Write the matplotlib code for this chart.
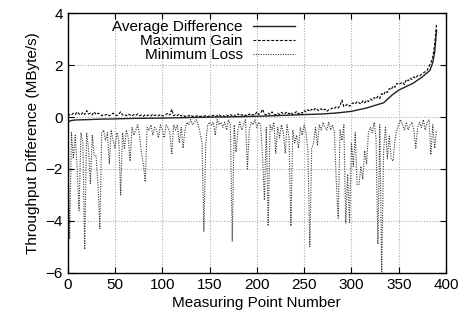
import matplotlib
matplotlib.use("Agg")
import matplotlib.pyplot as plt

plt.rcParams['font.family'] = ['Liberation Sans', 'DejaVu Sans']

# average difference (smooth curve, read at selected points)
avg_x = [0, 1, 3, 6, 10, 20, 35, 50, 70, 100, 140, 175, 210, 245, 270, 285,
         300, 316, 334, 343, 350, 365, 375, 383, 386, 388, 390]
avg_y = [-0.22, -0.18, -0.14, -0.12, -0.11, -0.1, -0.08, -0.07, -0.05, -0.04,
         -0.01, 0.01, 0.04, 0.09, 0.12, 0.16, 0.22, 0.35, 0.55, 0.85, 1.04,
         1.3, 1.55, 1.8, 2.1, 2.5, 3.35]

# every second measuring point, 0..390
points = list(range(0, 391, 2))

max_gain = [
    0.05, 0.1, 0.08, 0.15, 0.1, 0.2, 0.12, 0.08, 0.18, 0.1, 0.25, 0.12, 0.15,
    0.08, 0.2, 0.1, 0.15, 0.12, 0.05, 0.1, 0.08, 0.12, 0.05, 0.1, 0.15, 0.08,
    0.05, 0.12, 0.2, 0.08, 0.1, 0.05, 0.12, 0.08, 0.04, 0.1, 0.06, 0.12, 0.05,
    0.08, 0.03, 0.1, 0.06, 0.08, 0.04, 0.12, 0.06, 0.08, 0.05, 0.1, 0.04,
    0.06, 0.1, 0.15, 0.08, 0.3, 0.05, 0.1, 0.06, 0.12, 0.04, 0.08, 0.02, 0.06,
    0.04, 0.08, 0.02, 0.05, 0.03, 0.07, 0.02, 0.05, 0.03, 0.06, 0.02, 0.04,
    0.03, 0.07, 0.02, 0.05, 0.1, 0.03, 0.06, 0.02, 0.08, 0.04, 0.1, 0.05, 0.08,
    0.03, 0.12, 0.06, 0.1, 0.04, 0.08, 0.05, 0.12, 0.06, 0.1, 0.08, 0.2,
    0.1, 0.15, 0.3, 0.12, 0.08, 0.15, 0.1, 0.2, 0.12, 0.08, 0.15, 0.1, 0.18,
    0.12, 0.15, 0.2, 0.12, 0.18, 0.1, 0.15, 0.22, 0.12, 0.18, 0.15, 0.25,
    0.2, 0.28, 0.22, 0.3, 0.25, 0.35, 0.28, 0.25, 0.32, 0.25, 0.3, 0.22, 0.28,
    0.3, 0.35, 0.32, 0.4, 0.35, 0.45, 0.65, 0.4, 0.45, 0.5, 0.42, 0.5,
    0.55, 0.5, 0.6, 0.55, 0.5, 0.62, 0.55, 0.65, 0.6, 0.7, 0.65, 0.75, 0.7,
    0.8, 0.72, 0.9, 0.85, 1.0, 0.95, 1.1, 1.05, 1.2, 1.15, 1.3, 1.25,
    1.3, 1.35, 1.25, 1.45, 1.4, 1.5, 1.45, 1.55, 1.5, 1.6, 1.58, 1.65, 1.7,
    1.75, 1.8, 1.95, 2.1, 2.3, 2.8, 3.6,
]

min_loss = [
    -0.5, -4.7, -0.6, -1.6, -0.7, -2.0, -3.6, -0.6, -1.0, -5.1, -0.6, -1.2, -2.6,
    -0.7, -1.5, -1.5, -2.6, -4.3, -0.6, -0.5, -0.9, -0.6, -1.8, -0.5, -0.9, -1.2,
    -0.6, -0.9, -3.0, -0.6, -1.2, -0.5, -0.8, -1.7, -0.4, -0.7, -0.5, -0.3, -0.7,
    -1.4, -1.8, -2.5, -0.4, -0.5, -0.3, -0.7, -0.4, -0.5, -0.8, -0.3, -0.5,
    -0.8, -0.3, -0.4, -0.6, -1.45, -0.3, -0.5, -0.3, -1.0, -0.4, -1.2, -0.5, -0.2,
    -0.3, -0.1, -0.3, -0.2, -0.1, -0.3, -0.6, -1.0, -4.4, -1.0, -0.3, -0.2,
    -0.3, -0.2, -0.7, -0.1, -0.3, -0.2, -0.4, -0.2, -0.5, -0.1, -0.3, -4.8, -0.3,
    -1.35, -0.5, -0.2, -0.5, -0.3, -0.1, -2.0, -0.5, -0.2, -0.3, -0.1, -0.4,
    -0.2, -0.3, -1.5, -3.2, -0.4, -4.2, -0.3, -0.5, -0.2, -1.4, -0.4, -0.8, -0.3,
    -0.6, -1.4, -0.3, -0.8, -4.2, -0.5, -1.0, -0.7, -1.2, -0.4, -0.7, -0.3,
    -0.6, -1.3, -5.0, -1.2, -1.0, -0.4, -1.1, -0.3, -0.5, -0.2, -0.4, -0.5, -0.2,
    -0.5, -0.3, -0.6, -2.5, -3.9, -0.5, -0.9, -0.3, -4.1, -2.2, -4.1, -1.0,
    -1.9, -0.6, -2.6, -2.6, -1.9, -2.4, -1.3, -1.8, -0.6, -0.4, -0.6, -0.2, -0.8,
    -4.9, -0.3, -6.0, -1.3, -0.4, -1.6, -0.7, -1.6, -1.7, -0.9, -0.5, -0.3,
    -0.1, -0.3, -0.5, -0.2, -0.5, -0.3, -0.2, -0.5, -1.2, -0.4, -0.2, -0.4, -0.1,
    -0.5, -0.2, -0.1, -1.45, -0.3, -1.2, -0.5,
]

fig = plt.figure(figsize=(4.63, 3.2), dpi=100)
ax = fig.add_axes([0.1462, 0.1478, 0.8171, 0.8106])

ax.plot(avg_x, avg_y, color='#222222', lw=1.0, label='Average Difference')
ax.plot(points, max_gain, color='black', lw=0.8, ls=(0, (2.5, 1.5)),
        label='Maximum Gain')
ax.plot(points, min_loss, color='#3a3a3a', lw=0.8, ls=(0, (1, 1.2)),
        label='Minimum Loss')

ax.set_xlim(0, 400)
ax.set_ylim(-6, 4)
ax.set_xticks(range(0, 401, 50))
ax.set_yticks(range(-6, 5, 2))
ax.grid(True, color='#aaaaaa', ls=(0, (1, 1.5)), lw=0.8)
ax.tick_params(direction='in', top=True, right=True, labelsize=11, length=4)
for s in ax.spines.values():
    s.set_linewidth(1.0)

ax.set_xlabel('Measuring Point Number', fontsize=11, labelpad=3)
ax.set_ylabel('Throughput Difference (MByte/s)', fontsize=11)

leg = ax.legend(loc='upper right', bbox_to_anchor=(0.636, 1.027), frameon=False,
                markerfirst=False, fontsize=11, handlelength=2.75,
                handletextpad=0.65, labelspacing=0.0)
for col in leg._legend_handle_box.get_children():
    col.align = 'right'

fig.savefig('out.png', dpi=100)
